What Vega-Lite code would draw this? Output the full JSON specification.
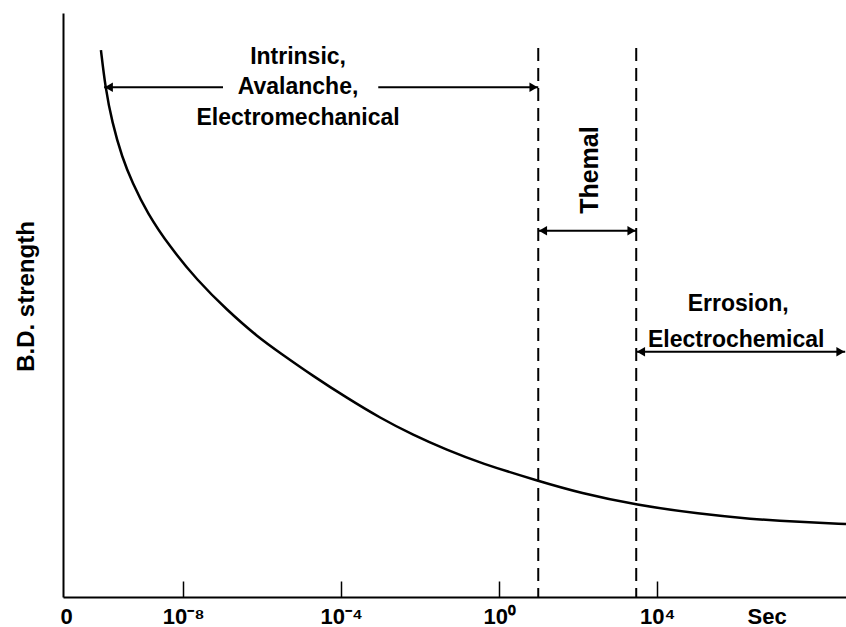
{
  "$schema": "https://vega.github.io/schema/vega-lite/v6.json",
  "width": 783,
  "height": 584,
  "autosize": {"type": "none"},
  "padding": {"left": 63, "top": 13, "right": 0, "bottom": 30},
  "background": "white",
  "config": {"view": {"stroke": null}, "font": "Liberation Sans"},
  "datasets": {
    "curve": [
      {"t": -10.08, "s": 93.66},
      {"t": -9.97, "s": 87.33},
      {"t": -9.80, "s": 81.34},
      {"t": -9.54, "s": 75.17},
      {"t": -9.29, "s": 71.06},
      {"t": -8.91, "s": 65.75},
      {"t": -8.33, "s": 59.93},
      {"t": -7.65, "s": 54.28},
      {"t": -6.89, "s": 49.14},
      {"t": -6.11, "s": 44.52},
      {"t": -5.54, "s": 41.78},
      {"t": -4.71, "s": 37.84},
      {"t": -3.85, "s": 34.08},
      {"t": -3.01, "s": 30.65},
      {"t": -2.18, "s": 27.74},
      {"t": -1.32, "s": 25.17},
      {"t": -0.48, "s": 22.95},
      {"t": 0.99, "s": 19.86},
      {"t": 2.05, "s": 17.81},
      {"t": 3.47, "s": 15.75},
      {"t": 5.09, "s": 14.21},
      {"t": 6.35, "s": 13.36},
      {"t": 7.62, "s": 12.84},
      {"t": 8.78, "s": 12.5}
    ],
    "bounds": [
      {"t": 0.99, "s": 94, "s2": 0},
      {"t": 3.47, "s": 94, "s2": 0}
    ],
    "arrows": [
      {"t": -10.0, "t2": -6.99, "s": 87.3},
      {"t": -3.06, "t2": 0.99, "s": 87.3},
      {"t": 0.99, "t2": 3.47, "s": 62.7},
      {"t": 3.47, "t2": 8.76, "s": 42.0}
    ],
    "heads": [
      {"t": -10.0, "s": 87.3, "dir": "left"},
      {"t": 0.99, "s": 87.3, "dir": "right"},
      {"t": 0.99, "s": 62.7, "dir": "left"},
      {"t": 3.47, "s": 62.7, "dir": "right"},
      {"t": 3.47, "s": 42.0, "dir": "left"},
      {"t": 8.76, "s": 42.0, "dir": "right"}
    ],
    "labels": [
      {"t": -5.09, "s": 92.4, "text": "Intrinsic,"},
      {"t": -5.09, "s": 87.3, "text": "Avalanche,"},
      {"t": -5.09, "s": 82.1, "text": "Electromechanical"},
      {"t": 6.05, "s": 50.2, "text": "Errosion,"},
      {"t": 6.0, "s": 44.0, "text": "Electrochemical"}
    ],
    "vlabels": [
      {"t": 2.51, "s": 73.1, "text": "Themal"}
    ]
  },
  "encoding": {
    "x": {
      "field": "t",
      "type": "quantitative",
      "scale": {"domain": [-11.04, 8.78], "nice": false, "zero": false},
      "axis": {
        "title": null,
        "values": [-10.96, -8, -4, 0, 4, 6.77],
        "labelExpr": "datum.value == -8 ? '10⁻⁸' : datum.value == -4 ? '10⁻⁴' : datum.value == 0 ? '10⁰' : datum.value == 4 ? '10⁴' : datum.value < -10 ? '0' : 'Sec'",
        "grid": false,
        "tickSize": -16,
        "tickWidth": 1.5,
        "tickColor": "black",
        "tickOpacity": {"condition": {"test": "datum.value < -10 || datum.value > 6", "value": 0}, "value": 1},
        "domainColor": "black",
        "domainWidth": 2,
        "labelFont": "Liberation Sans",
        "labelFontSize": 22,
        "labelFontWeight": "bold",
        "labelColor": "black",
        "labelPadding": 25,
        "labelFlush": false,
        "labelOverlap": false
      }
    },
    "y": {
      "field": "s",
      "type": "quantitative",
      "scale": {"domain": [0, 100], "nice": false, "zero": false},
      "axis": {
        "title": "B.D. strength",
        "labels": false,
        "ticks": false,
        "grid": false,
        "domainColor": "black",
        "domainWidth": 2,
        "titleFont": "Liberation Sans",
        "titleFontSize": 24,
        "titleFontWeight": "bold",
        "titleColor": "black",
        "titleAngle": -90,
        "titleX": -30,
        "titleY": 283,
        "titleAlign": "center",
        "titleBaseline": "alphabetic"
      }
    }
  },
  "layer": [
    {
      "data": {"name": "curve"},
      "mark": {"type": "line", "color": "black", "strokeWidth": 2.5, "interpolate": "basis"}
    },
    {
      "data": {"name": "bounds"},
      "mark": {"type": "rule", "color": "black", "strokeWidth": 2, "strokeDash": [13, 7]},
      "encoding": {"y2": {"field": "s2"}}
    },
    {
      "data": {"name": "arrows"},
      "mark": {"type": "rule", "color": "black", "strokeWidth": 2},
      "encoding": {"x2": {"field": "t2"}}
    },
    {
      "data": {"name": "heads"},
      "transform": [{"filter": "datum.dir == 'left'"}],
      "mark": {"type": "point", "shape": "triangle-left", "filled": true, "color": "black", "size": 90, "opacity": 1, "xOffset": 4.7}
    },
    {
      "data": {"name": "heads"},
      "transform": [{"filter": "datum.dir == 'right'"}],
      "mark": {"type": "point", "shape": "triangle-right", "filled": true, "color": "black", "size": 90, "opacity": 1, "xOffset": -4.7}
    },
    {
      "data": {"name": "labels"},
      "mark": {"type": "text", "font": "Liberation Sans", "fontSize": 23, "fontWeight": "bold", "color": "black", "align": "center", "baseline": "middle"},
      "encoding": {"text": {"field": "text", "type": "nominal"}}
    },
    {
      "data": {"name": "vlabels"},
      "mark": {"type": "text", "font": "Liberation Sans", "fontSize": 25, "fontWeight": "bold", "color": "black", "align": "center", "baseline": "alphabetic", "angle": -90},
      "encoding": {"text": {"field": "text", "type": "nominal"}}
    }
  ]
}
